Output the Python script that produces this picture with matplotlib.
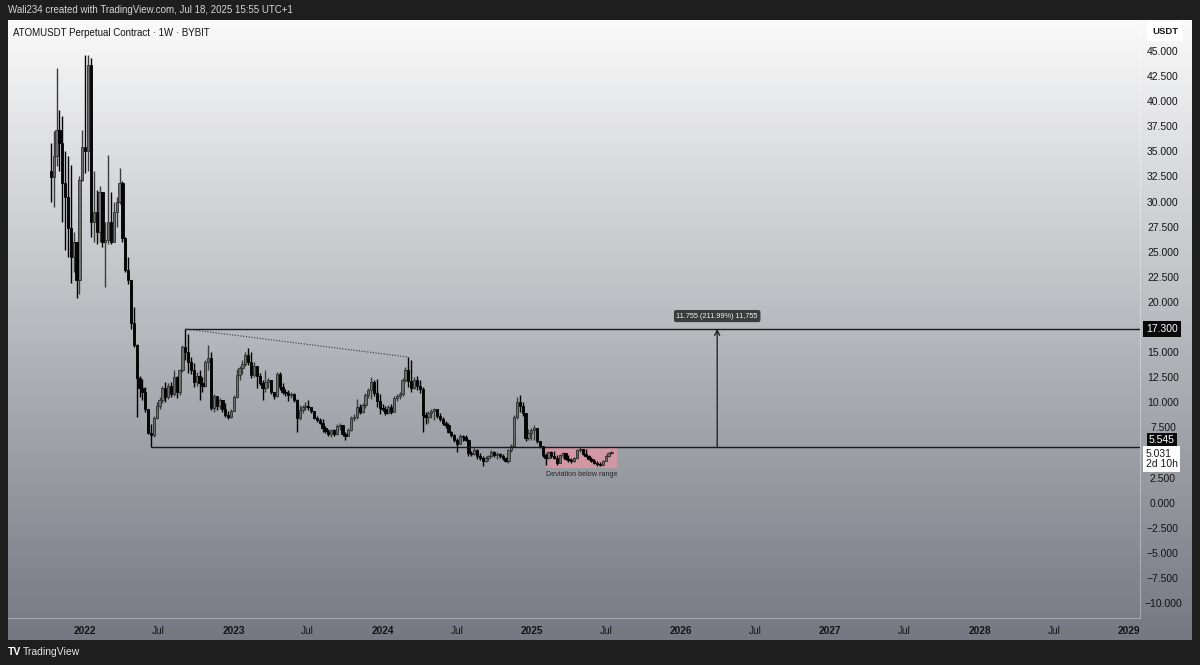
import numpy as np
import pandas as pd
import matplotlib
matplotlib.use("Agg")
import matplotlib.pyplot as plt
import matplotlib.dates as mdates
import matplotlib.transforms as mtransforms
from matplotlib.patches import Rectangle

plt.rcParams['font.family'] = ['Liberation Sans', 'DejaVu Sans']

# weekly candles, ATOMUSDT perp (Bybit), first bar week of 2021-10-11
start_week = "2021-10-11"
first_open = 33.0
closes = [
    # Oct 2021 - Jan 2022
    32.4, 34.5, 37.1, 35.8, 31.8, 30.5, 27.4, 24.5, 26.0, 22.2, 32.1, 35.4, 35.0, 43.6, 28.0,
    # Jan - May 2022
    29.0, 27.0, 31.0, 26.0, 26.2, 28.0, 26.0, 29.0, 30.0, 31.8, 26.4, 23.2, 22.2, 17.9, 15.7, 12.4,
    # May - Nov 2022
    11.4, 11.0, 9.3, 6.9, 6.7, 8.4, 9.6, 10.2, 11.4, 10.5, 11.6, 10.8, 12.5, 11.0, 13.2, 15.5,
    15.0, 14.0, 13.2, 12.0, 12.6, 11.9, 11.6, 14.0, 14.4, 9.4,
    # Nov 2022 - Jun 2023
    10.6, 9.6, 10.2, 9.3, 8.7, 8.5, 9.1, 10.5, 12.7, 13.4, 13.8, 14.7, 14.0, 12.7, 13.6, 12.6,
    11.9, 11.4, 12.0, 12.2, 11.0, 10.6, 12.8, 11.5, 11.0, 10.9, 10.7, 10.8, 10.2, 8.4,
    # Jun 2023 - Mar 2024
    9.2, 9.5, 9.6, 9.5, 9.1, 8.4, 8.2, 7.9, 7.4, 7.1, 6.8, 7.2, 6.8, 7.6, 7.7, 6.8, 6.6, 7.2,
    8.4, 8.5, 9.5, 9.0, 9.7, 10.7, 11.2, 12.0, 10.9, 10.1, 9.4, 9.3, 8.9, 9.5, 9.0, 10.4, 10.6,
    10.8, 12.2, 13.2, 12.1,
    # Mar 2024 - Jul 2025
    11.4, 12.2, 11.6, 11.3, 8.7, 8.5, 8.9, 9.1, 9.3, 8.6, 8.3, 7.9, 7.7, 7.0, 6.7, 6.2, 5.8,
    6.6, 6.5, 6.2, 4.9, 4.8, 5.2, 4.6, 4.4, 4.1,
    4.4, 4.6, 5.0, 4.7, 4.8, 4.6, 4.4, 4.1, 5.2,
    5.6, 8.5, 10.0, 9.6, 8.9, 6.4,
    6.9, 7.2, 7.4, 6.1, 5.6, 4.7,
    4.4, 5.0, 4.6, 4.4, 3.95, 4.7, 4.9, 4.3, 4.2, 4.1, 4.4, 5.2, 5.3, 4.8, 4.6, 4.3, 4.1, 3.95,
    3.8, 3.75, 4.1, 4.6, 4.9, 5.031,
]
highs = [
    35.8, 37.0, 43.3, 39.1, 38.5, 35.0, 34.5, 33.6, 27.0, 25.0, 32.5, 37.1, 44.6, 44.6, 44.3,
    33.0, 31.1, 31.5, 29.5, 28.0, 34.6, 31.0, 30.0, 30.5, 33.3, 32.0, 26.5, 24.5, 22.2, 19.5, 15.8,
    12.6, 12.3, 11.5, 9.3, 7.8, 8.6, 10.0, 10.5, 11.6, 12.0, 11.9, 12.0, 13.2, 12.6, 13.3, 15.7,
    17.3, 16.8, 14.5, 13.9, 13.0, 13.2, 12.5, 14.2, 15.7, 15.0,
    10.8, 10.6, 10.4, 10.2, 9.9, 9.1, 9.3, 10.7, 13.3, 13.6, 14.2, 15.0, 15.4, 15.0, 14.0, 13.5,
    12.9, 12.2, 13.2, 12.4, 12.2, 11.0, 13.0, 13.0, 11.9, 11.3, 11.2, 11.0, 10.9, 10.3,
    9.7, 9.7, 10.0, 10.2, 9.5, 9.0, 8.6, 8.4, 8.3, 7.6, 7.3, 7.3, 7.3, 7.8, 7.9, 7.5, 7.0, 7.4,
    8.6, 8.8, 10.3, 9.8, 9.9, 10.9, 11.4, 12.5, 12.2, 12.3, 10.8, 9.8, 9.6, 9.7, 9.8, 10.6, 10.8,
    11.0, 12.4, 13.5, 14.5,
    14.2, 12.5, 12.6, 12.2, 11.5, 9.0, 9.1, 9.3, 9.4, 9.3, 8.9, 8.5, 8.1, 7.9, 7.1, 6.8, 6.4,
    6.8, 6.7, 6.7, 6.3, 5.1, 5.4, 5.3, 4.9, 4.6,
    4.6, 4.7, 5.2, 5.1, 5.0, 4.9, 4.8, 4.5, 5.3,
    5.8, 8.7, 10.5, 10.7, 10.0, 8.9,
    7.3, 7.4, 7.7, 6.9, 6.1, 5.6,
    4.9, 5.1, 5.1, 5.1, 4.7, 4.8, 5.0, 4.8, 4.7, 4.4, 4.5, 5.3, 5.5, 5.3, 5.3, 4.7, 4.5, 4.3,
    4.1, 4.0, 4.2, 4.7, 5.0, 5.15,
]
lows = [
    30.0, 29.5, 33.5, 33.0, 28.0, 25.2, 24.5, 21.9, 23.0, 20.4, 20.8, 32.0, 32.8, 33.0, 26.5,
    26.0, 25.8, 26.0, 25.5, 21.5, 25.8, 25.8, 26.0, 27.5, 29.8, 26.0, 23.0, 21.8, 17.3, 15.5, 8.5,
    10.5, 10.2, 9.0, 6.8, 5.545, 6.5, 8.3, 9.3, 9.9, 10.0, 10.3, 10.5, 10.6, 10.4, 10.7, 13.0,
    14.2, 12.9, 12.8, 11.5, 11.6, 10.2, 11.0, 11.5, 13.2, 9.2,
    9.0, 9.2, 9.3, 9.0, 8.5, 8.3, 8.4, 9.1, 10.4, 12.2, 12.8, 13.6, 13.7, 12.4, 12.5, 11.4,
    11.7, 10.2, 11.0, 11.4, 10.8, 10.3, 10.5, 11.2, 10.8, 10.6, 10.1, 10.4, 10.0, 7.0,
    8.2, 8.9, 9.2, 9.2, 8.9, 8.3, 8.0, 7.8, 7.0, 6.9, 6.6, 6.5, 6.6, 6.7, 7.2, 6.6, 6.2, 6.6,
    7.1, 8.1, 8.3, 8.8, 8.9, 9.4, 10.4, 10.3, 10.6, 9.5, 8.8, 9.1, 8.7, 8.8, 8.8, 9.0, 10.1,
    10.3, 10.6, 12.0, 11.5,
    11.0, 11.3, 11.2, 10.9, 7.0, 7.8, 7.9, 8.4, 8.2, 8.4, 8.1, 7.7, 7.4, 6.9, 6.5, 6.0, 5.05,
    5.9, 6.1, 6.1, 4.6, 4.6, 4.7, 4.3, 4.2, 3.65,
    4.0, 4.1, 4.5, 4.5, 4.3, 4.4, 4.2, 4.0, 3.9,
    5.0, 5.5, 8.3, 9.0, 8.6, 6.1,
    6.2, 6.2, 6.2, 5.9, 5.4, 4.5,
    3.75, 4.3, 4.4, 4.3, 3.7, 3.9, 4.4, 4.2, 4.0, 3.95, 4.0, 4.3, 5.0, 4.7, 4.5, 4.2, 4.0, 3.8,
    3.6, 3.6, 3.7, 4.1, 4.5, 4.8,
]

# drawings
range_high = 17.3
range_low = 5.545
range_high_start = "2022-09-05"
range_low_start = "2022-06-13"
lower_high_end = "2024-03-04"
lower_high = 14.5
target_date = "2026-03-30"
target_label = "11.755 (211.99%) 11,755"
dev_start, dev_end = "2025-02-03", "2025-07-28"
dev_low, dev_high = 3.45, 5.44
dev_label = "Deviation below range"
last_price = 5.031
countdown = "2d 10h"

price_ticks = [45, 42.5, 40, 37.5, 35, 32.5, 30, 27.5, 25, 22.5, 20, 15, 12.5, 10, 7.5,
               2.5, 0, -2.5, -5, -7.5, -10]
time_ticks = ["2022-01-01", "2022-07-01", "2023-01-01", "2023-07-01", "2024-01-01",
              "2024-07-01", "2025-01-01", "2025-07-01", "2026-01-01", "2026-07-01",
              "2027-01-01", "2027-07-01", "2028-01-01", "2028-07-01", "2029-01-01"]
time_labels = ["2022", "Jul", "2023", "Jul", "2024", "Jul", "2025", "Jul", "2026", "Jul",
               "2027", "Jul", "2028", "Jul", "2029"]

assert len(closes) == len(highs) == len(lows) == 197

dates = pd.date_range(start_week, periods=len(closes), freq="7D")
x = mdates.date2num(dates)
c = np.array(closes)
o = np.concatenate([[first_open], c[:-1]])
h = np.maximum(np.array(highs), np.maximum(o, c))
l = np.minimum(np.array(lows), np.minimum(o, c))
up = c >= o

W, H = 1200, 665
fig = plt.figure(figsize=(W / 100, H / 100), dpi=100, facecolor="#1e1e1e")

# gradient panel
bg = fig.add_axes([8 / W, (H - 640) / H, 1184 / W, 620 / H])
top = np.array([0.98, 0.98, 0.98])
bot = np.array([0.46, 0.47, 0.51])
t = np.linspace(0, 1, 256)[:, None, None]
bg.imshow(top + (bot - top) * t, aspect="auto", extent=[0, 1, 0, 1])
bg.axis("off")

ax = fig.add_axes([8 / W, (H - 618) / H, 1132 / W, 598 / H])
ax.set_facecolor("none")
ax.set_xlim(mdates.datestr2num("2021-06-28"), mdates.datestr2num("2029-01-28"))
ax.set_ylim(-11.5, 48.09)

# candles
wick_col = np.where(up, "#3c3c3c", "#000000")
ax.vlines(x, l, h, colors=wick_col, lw=1.0, zorder=2)
body_h = np.maximum(np.abs(c - o), 0.1)
ax.bar(x[up], body_h[up], bottom=np.minimum(o, c)[up], width=5.6,
       color="#6f6f6f", edgecolor="#2e2e2e", linewidth=0.6, zorder=3)
ax.bar(x[~up], body_h[~up], bottom=np.minimum(o, c)[~up], width=5.6,
       color="#050505", edgecolor="#000000", linewidth=0.6, zorder=3)

xr = ax.get_xlim()[1]
ax.hlines(range_high, mdates.datestr2num(range_high_start), xr, color="#1a1a1a", lw=1.0, zorder=4)
ax.hlines(range_low, mdates.datestr2num(range_low_start), xr, color="#1a1a1a", lw=1.0, zorder=4)
ax.plot(mdates.datestr2num([range_high_start, lower_high_end]), [range_high, lower_high],
        ls=(0, (1, 1.5)), lw=0.8, color="#333333", zorder=4)

tx = mdates.datestr2num(target_date)
ax.annotate("", xy=(tx, range_high), xytext=(tx, range_low),
            arrowprops=dict(arrowstyle="->", lw=0.9, color="#1a1a1a", mutation_scale=9,
                            shrinkA=0, shrinkB=0), zorder=5)
ax.annotate(target_label, xy=(tx, range_high), xytext=(0, 9.3), textcoords="offset points",
            ha="center", va="center", fontsize=5.3, color="#f0f0f0",
            bbox=dict(boxstyle="round,pad=0.35,rounding_size=0.3", fc="#3c3c3e", ec="none"))

d0, d1 = mdates.datestr2num(dev_start), mdates.datestr2num(dev_end)
ax.add_patch(Rectangle((d0, dev_low), d1 - d0, dev_high - dev_low, fc="#ff94a4",
                       alpha=0.55, ec="none", zorder=1))
ax.text((d0 + d1) / 2, dev_low - 0.3, dev_label, ha="center", va="top", fontsize=5.2,
        color="#2a2a2a")

# axes / ticks
for s in ["top", "left"]:
    ax.spines[s].set_visible(False)
for s in ["right", "bottom"]:
    ax.spines[s].set_color((1, 1, 1, 0.35))
    ax.spines[s].set_linewidth(0.7)
ax.yaxis.tick_right()
ax.set_yticks(price_ticks)
ax.set_yticklabels([f"{v:.3f}".replace("-", "\u2212") for v in price_ticks])
ax.tick_params(axis="y", length=0, pad=16.5, labelsize=7.5, labelcolor="#141414")
for lab in ax.get_yticklabels():
    lab.set_horizontalalignment("center")
ax.set_xticks(mdates.datestr2num(time_ticks))
ax.set_xticklabels(time_labels)
ax.tick_params(axis="x", length=0, pad=6, labelsize=7.3, labelcolor="#141414")
for lab in ax.get_xticklabels():
    if lab.get_text() != "Jul":
        lab.set_fontweight("bold")

# price-axis labels
tr = mtransforms.blended_transform_factory(fig.transFigure, ax.transData)
ax.text(1162 / W, range_high, "17.300", transform=tr, ha="center", va="center", fontsize=7.5,
        color="white", bbox=dict(boxstyle="square,pad=0.28", fc="#0a0a0a", ec="none"), zorder=6)
ax.text(1162 / W, range_low + 0.2, "5.545", transform=tr, ha="center", va="bottom", fontsize=7.5,
        color="white", bbox=dict(boxstyle="square,pad=0.22", fc="#0a0a0a", ec="none"), zorder=6)
ax.text(1146 / W, range_low - 0.2, f"{last_price:.3f}\n{countdown}", transform=tr, ha="left",
        va="top", fontsize=7.5, color="#1a1a1a", linespacing=1.05,
        bbox=dict(boxstyle="square,pad=0.25", fc="white", ec="none"), zorder=6)
fig.text(1165 / W, 1 - 31 / H, "USDT", ha="center", va="center", fontsize=6.8, weight="bold",
         color="#1a1a1a", bbox=dict(boxstyle="square,pad=0.55", fc="white", ec="none"))

# header, title, footer
fig.text(8 / W, 1 - 10 / H, "Wali234 created with TradingView.com, Jul 18, 2025 15:55 UTC+1",
         ha="left", va="center", fontsize=7, color="#d6d6d6")
fig.text(13 / W, 1 - 33 / H, "ATOMUSDT Perpetual Contract \u00b7 1W \u00b7 BYBIT",
         ha="left", va="center", fontsize=7, color="#131313")
fig.text(8 / W, 1 - 652 / H, "TV", ha="left", va="center", fontsize=7.5, weight="bold",
         color="white")
fig.text(23 / W, 1 - 652 / H, "TradingView", ha="left", va="center", fontsize=7.5,
         color="#e6e6e6")

fig.savefig("out.png", dpi=100, facecolor=fig.get_facecolor())
